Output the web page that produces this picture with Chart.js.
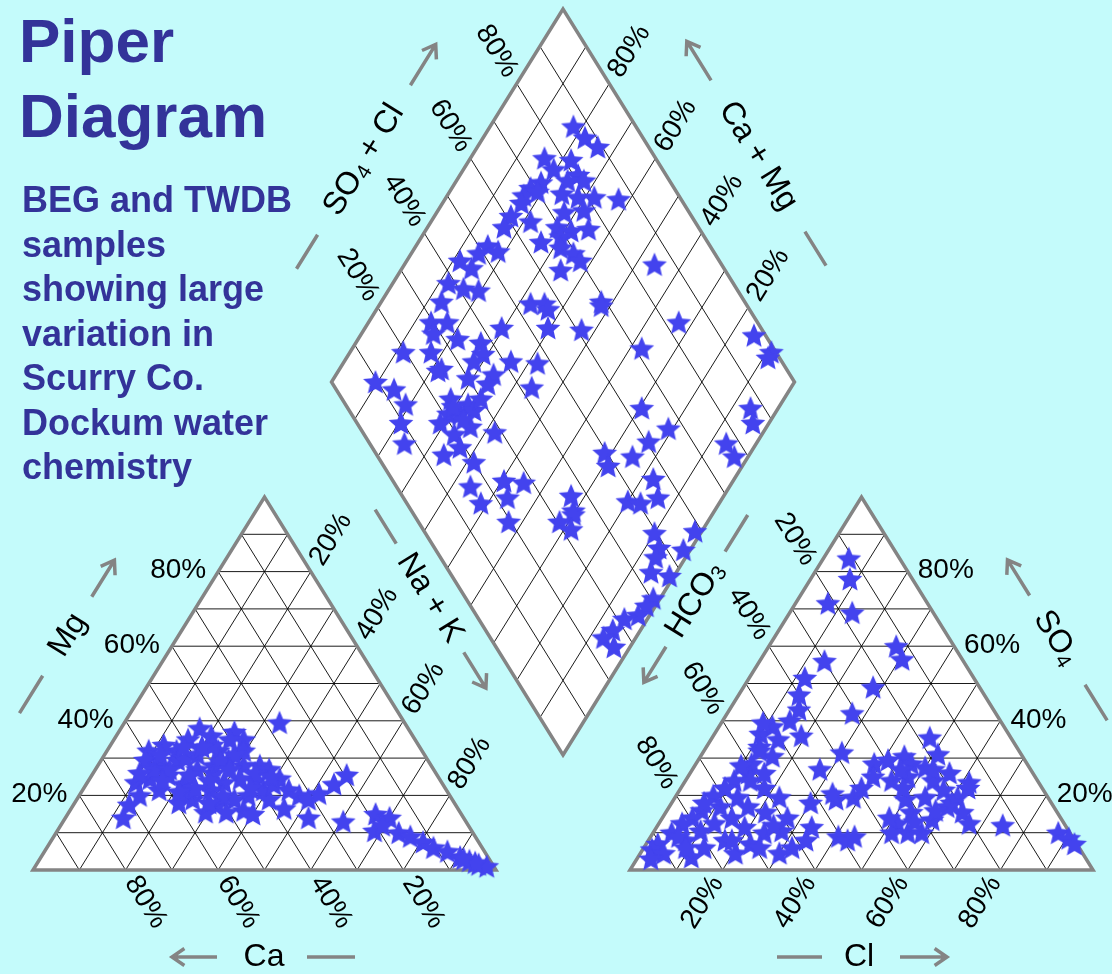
<!DOCTYPE html>
<html>
<head>
<meta charset="utf-8">
<title>Piper Diagram</title>
<script src="https://cdn.jsdelivr.net/npm/chart.js@4.4.1/dist/chart.umd.min.js"></script>
<style>
    html, body { margin: 0; padding: 0; background: #c4fbfb; }
    #wrap { position: relative; width: 1112px; height: 974px; overflow: hidden; }
    #piper { position: absolute; left: 0; top: 0; }
    .title {
        position: absolute; left: 19px; top: 3px;
        font: bold 62px "Liberation Sans", Arial, sans-serif;
        line-height: 75px; color: #333399;
    }
    .note {
        position: absolute; left: 22px; top: 178px;
        font: bold 36px "Liberation Sans", Arial, sans-serif;
        line-height: 44.5px; color: #333399;
    }
</style>
</head>
<body>
<div id="wrap">
    <canvas id="piper" width="1112" height="974"></canvas>
    <div class="title">Piper<br>Diagram</div>
    <div class="note">BEG and TWDB<br>samples<br>showing large<br>variation in<br>Scurry Co.<br>Dockum water<br>chemistry</div>
</div>
<script>
// tick labels and grid steps (percent)
const tickValues = [20, 40, 60, 80];
const gridSteps = [10, 20, 30, 40, 50, 60, 70, 80, 90];

// cation triangle samples: [Ca %, Mg %]  (Na + K = the rest)
const cations = [
    [45, 38], [43.5, 36], [38, 37], [37, 35], [49, 35], [53, 32], [59, 32], [61, 29.5],
    [58.5, 28], [54, 29.5], [49, 31], [44, 32], [58, 25.5], [62.5, 24.5], [66, 23.5], [62, 21.5],
    [56, 23], [51, 27], [47, 28], [43, 29.5], [40.5, 28], [37, 28], [35.5, 27], [40, 24],
    [43, 24.5], [47, 23.5], [51, 21.5], [56, 19], [51.5, 17.5], [47, 19], [43.5, 20], [39.5, 21.5],
    [34.5, 24.5], [34, 21.5], [32.5, 20], [31, 19], [28, 20.5], [23.5, 23], [19.5, 25.5], [27, 39.5],
    [73.5, 14], [33.5, 14], [26.5, 13], [18.5, 15], [16, 14], [21, 10.5], [18.5, 12], [16, 10],
    [14, 9], [12, 7.5], [10.5, 6], [8, 5], [6, 3.5], [4.5, 2.5], [3, 1.5], [1.5, 1],
    [3.5, 2], [5.5, 3], [46.5, 16], [50.5, 15.5], [55, 15.5], [56.5, 20], [67, 20], [55, 33.5],
    [44.5, 33.5], [39.5, 19], [37.5, 16.5], [45, 15], [59.5, 18], [60.5, 27], [36.5, 23], [53.5, 25.5],
    [38.5, 32], [70.5, 17.5], [52, 30], [57, 27], [48, 26], [45, 29], [41, 31], [39, 26],
    [50, 24], [54, 22], [60, 24], [64, 26], [57, 31], [47, 33], [42, 22], [36, 25],
    [49, 20], [53, 18], [58, 21], [44, 27], [40, 35], [51, 33]
];

// anion triangle samples: [Cl %, SO4 %]  (HCO3 = the rest)
const anions = [
    [5.5, 83.5], [8.5, 78], [7, 71.5], [13.5, 69], [27.5, 60], [30.5, 56.5], [14, 56], [12, 51.5],
    [28, 49], [27, 42], [47, 35.5], [30, 31.5], [27.5, 27],
    [15, 43], [14.5, 40], [11.5, 38.5], [10, 36.5], [14.5, 35], [11.5, 33], [15.5, 30.5], [12, 28.5],
    [12.5, 26], [10.5, 24], [9.5, 22], [18, 22], [13.5, 19.5], [22.5, 19.5], [11, 17], [7.5, 16],
    [6.5, 14], [5, 12.5], [4, 10], [2.5, 7], [2, 5.5], [5, 4.5], [8, 8], [10, 10.5],
    [12, 12.5], [15, 14], [19, 11.5], [16.5, 8], [13, 6], [11.5, 3.5], [20.5, 4.5], [22.5, 7],
    [24, 10], [27.5, 10.5], [32, 6], [30, 4.5], [21.5, 15.5], [33.5, 11.5], [34, 8], [40.5, 9],
    [43, 8], [44, 9], [30, 18], [35, 19], [38.5, 19.5], [39, 22], [9, 39.5], [33.5, 20.5],
    [38.5, 28.5], [41, 29.5], [44, 30.5], [46.5, 28.5], [51, 31], [50, 27.5], [44.5, 24], [47.5, 25],
    [53.5, 24], [57, 21.5], [61, 19.5], [61.5, 23.5], [64, 15.5], [67, 12.5], [54, 19.5], [50, 19],
    [53, 15.5], [51.5, 12.5], [55, 10], [58, 10], [51.5, 10], [58.5, 13.5], [60.5, 18], [74.5, 12],
    [87.5, 10], [90.5, 8.5], [92.5, 7], [40, 25], [60, 17],
    [8, 20], [10, 28], [14, 24], [17, 17], [6, 9], [9, 6], [3, 3], [18, 8],
    [25, 6], [27, 14], [16, 26], [12, 32], [19, 36], [13, 47], [25, 12], [7, 18],
    [48, 22], [52, 27], [56, 26], [45, 27], [58, 16], [62, 22], [49, 14], [55, 13]
];

// diamond samples: [SO4 + Cl %, Ca + Mg %]
const diamondPts = [
    [86.5, 82], [87.5, 78], [89, 74], [76, 84], [81.5, 78], [76.5, 80.5], [81, 74.5], [81.5, 72.5],
    [78, 76], [72, 81.5], [69, 83], [66.5, 83.5], [65, 83], [70, 81], [75, 75.5], [81.5, 68],
    [86.5, 62.5], [78, 71.5], [73, 72.5], [77.5, 68.5], [61, 83.5], [58, 83.5], [64.5, 78.5], [69.5, 72],
    [72, 68.5], [76, 65], [69, 70], [64, 73.5], [67.5, 68.5], [69.5, 65], [70, 62.5], [64.5, 65.5],
    [52, 84.5], [49, 85.5], [53.5, 81.5], [44, 88.5], [45.5, 85], [38.5, 88], [41, 84], [44, 80.5],
    [34.5, 87], [85.5, 46], [53.5, 67.5], [56.5, 64.5], [69, 52.5],
    [29.5, 86.5], [28.5, 84.5], [33, 83], [33, 78.5], [19.5, 88.5], [25.5, 82.5], [25.5, 78], [37.5, 73],
    [36.5, 71], [33.5, 72], [44, 70.5], [41.5, 64], [36, 66], [30, 71], [33.5, 66], [56.5, 63],
    [54, 60.5], [47, 58], [42.5, 56], [9.5, 90.5], [12.5, 85.5], [13, 81], [9.5, 79.5], [7.5, 76],
    [23.5, 72], [26.5, 67.5], [21, 70.5], [23.5, 68], [27, 65.5], [30, 65.5], [18, 71], [24, 64],
    [19.5, 66.5], [28.5, 58], [19, 63.5], [14.5, 66], [20, 58.5], [16, 56], [24, 49.5], [28, 45],
    [22.5, 46.5], [16, 51.5], [36.5, 33], [35, 30.5], [24.5, 78.5], [23, 70.5], [23.5, 66.5], [19.5, 43],
    [61, 53], [83, 33], [71.5, 37.5], [97.5, 15], [99, 9], [97.5, 9], [63.5, 29.5], [66.5, 21],
    [60.5, 23.5], [49.5, 31.5], [48.5, 29], [55, 25], [87, 6], [85.5, 3.5], [77, 6.5], [77, 3],
    [56.5, 17.5], [48, 20], [50.5, 17], [55, 14], [34.5, 30], [30.5, 32], [32, 28.5], [49.5, 10],
    [58.5, 1.5], [48.5, 7], [53.5, 1.5], [46.5, 6.5], [43.5, 5.5], [47, 1], [40.5, 1.5], [38, 2],
    [35, 2.5], [31.5, 5], [27.5, 6], [24.5, 7], [25.5, 3.5], [68.5, 52]
];

// layout of the three panels (layout units, the scales run 0..1112 and 0..974)
const SIDE = 463, HGT = 373, BASE_Y = 870;
const LEFT_X0 = 33, RIGHT_X0 = 630;
const DIA_X = 563, DIA_Y = 755;
const THETA = Math.atan2(HGT, SIDE / 2);
const CS = Math.cos(THETA), SN = Math.sin(THETA);

const BORDER = '#848484';
const INK = '#000000';
const STAR = '#4343ee';
const TICK_FONT = '28px "Liberation Sans", Arial, sans-serif';
const AXIS_FONT = '32px "Liberation Sans", Arial, sans-serif';
const SUB_FONT = '21px "Liberation Sans", Arial, sans-serif';

function leftTri(ca, mg) {
    const na = 100 - ca - mg;
    return { x: LEFT_X0 + SIDE * (na + mg / 2) / 100, y: BASE_Y - HGT * mg / 100 };
}
function rightTri(cl, so4) {
    return { x: RIGHT_X0 + SIDE * (cl + so4 / 2) / 100, y: BASE_Y - HGT * so4 / 100 };
}
function diamond(a, b) {
    return { x: DIA_X + SIDE / 2 * (a - b) / 100, y: DIA_Y - HGT * (a + b) / 100 };
}

// filled five point star used as point style
function makeStar(r, color) {
    const c = document.createElement('canvas');
    const size = Math.ceil(r * 2) + 2;
    c.width = c.height = size;
    const g = c.getContext('2d');
    g.translate(size / 2, size / 2 + r * 0.08);
    g.beginPath();
    for (let i = 0; i < 10; i++) {
        const rr = i % 2 ? r * 0.46 : r;
        const a = -Math.PI / 2 + i * Math.PI / 5;
        g.lineTo(rr * Math.cos(a), rr * Math.sin(a));
    }
    g.closePath();
    g.fillStyle = color;
    g.fill();
    return c;
}
const starImg = makeStar(13, STAR);

const piperFrame = {
    id: 'piperFrame',
    beforeDatasetsDraw(chart) {
        const ctx = chart.ctx;
        const xs = chart.scales.x, ys = chart.scales.y;
        const px = p => ({ x: xs.getPixelForValue(p.x), y: ys.getPixelForValue(p.y) });

        const poly = (pts, fill, stroke, lw) => {
            ctx.beginPath();
            pts.map(px).forEach((p, i) => i ? ctx.lineTo(p.x, p.y) : ctx.moveTo(p.x, p.y));
            ctx.closePath();
            if (fill) { ctx.fillStyle = fill; ctx.fill(); }
            if (stroke) { ctx.strokeStyle = stroke; ctx.lineWidth = lw; ctx.lineJoin = 'miter'; ctx.stroke(); }
        };
        const seg = (a, b) => {
            const p = px(a), q = px(b);
            ctx.moveTo(p.x, p.y);
            ctx.lineTo(q.x, q.y);
        };

        const leftShape = [leftTri(100, 0), leftTri(0, 0), leftTri(0, 100)];
        const rightShape = [rightTri(0, 0), rightTri(100, 0), rightTri(0, 100)];
        const diaShape = [diamond(0, 0), diamond(100, 0), diamond(100, 100), diamond(0, 100)];

        ctx.save();
        [leftShape, rightShape, diaShape].forEach(s => poly(s, '#ffffff'));

        // grid
        ctx.beginPath();
        gridSteps.forEach(k => {
            seg(leftTri(100 - k, k), leftTri(0, k));
            seg(leftTri(k, 0), leftTri(k, 100 - k));
            seg(leftTri(100 - k, 0), leftTri(0, 100 - k));
            seg(rightTri(0, k), rightTri(100 - k, k));
            seg(rightTri(k, 0), rightTri(k, 100 - k));
            seg(rightTri(100 - k, 0), rightTri(0, 100 - k));
            seg(diamond(k, 0), diamond(k, 100));
            seg(diamond(0, k), diamond(100, k));
        });
        ctx.strokeStyle = INK;
        ctx.lineWidth = 0.9;
        ctx.stroke();

        [leftShape, rightShape, diaShape].forEach(s => poly(s, null, BORDER, 3.5));

        // tick labels
        ctx.fillStyle = '#000';
        ctx.font = TICK_FONT;
        const label = (text, p, dx, dy, ang, align) => {
            const q = px(p);
            ctx.save();
            ctx.translate(q.x + dx, q.y + dy);
            ctx.rotate(ang);
            ctx.textAlign = align;
            ctx.textBaseline = 'middle';
            ctx.fillText(text, 0, 0);
            ctx.restore();
        };
        const off = 10;
        tickValues.forEach(k => {
            const t = k + '%';
            label(t, leftTri(100 - k, k), -12, -1, 0, 'right');                       // Mg
            label(t, leftTri(k, 0), off * CS, off * SN, THETA, 'left');                 // Ca
            label(t, leftTri(0, 100 - k), off * CS, -off * SN, -THETA, 'left');         // Na + K
            label(t, rightTri(100 - k, k), 10, -1, 0, 'left');                          // SO4
            label(t, rightTri(k, 0), -off * CS, off * SN, -THETA, 'right');             // Cl
            label(t, rightTri(0, 100 - k), -off * CS, -off * SN, THETA, 'right');       // HCO3
            label(t, diamond(k, 100), -off * CS, -off * SN, THETA, 'right');            // SO4 + Cl
            label(t, diamond(100, k), off * CS, -off * SN, -THETA, 'left');             // Ca + Mg
        });

        // axis titles with arrow and dash
        const axisTitle = (parts, c, ang, arrow, dash) => {
            const q = px(c);
            ctx.save();
            ctx.translate(q.x, q.y);
            ctx.rotate(ang);
            ctx.textBaseline = 'middle';
            ctx.textAlign = 'left';
            const widths = parts.map(([t, sub]) => {
                ctx.font = sub ? SUB_FONT : AXIS_FONT;
                return ctx.measureText(t).width;
            });
            let x = -widths.reduce((s, w) => s + w, 0) / 2;
            ctx.fillStyle = '#000';
            parts.forEach(([t, sub], i) => {
                ctx.font = sub ? SUB_FONT : AXIS_FONT;
                ctx.fillText(t, x, sub ? 7 : 0);
                x += widths[i];
            });
            ctx.strokeStyle = BORDER;
            ctx.lineWidth = 3.5;
            ctx.lineCap = 'butt';
            ctx.beginPath();
            ctx.moveTo(dash[0], 0);
            ctx.lineTo(dash[1], 0);
            ctx.moveTo(arrow[0], 0);
            ctx.lineTo(arrow[1], 0);
            const dir = Math.sign(arrow[1] - arrow[0]);
            const hl = 15, ha = 0.6;
            ctx.moveTo(arrow[1] - dir * hl * Math.cos(ha), -hl * Math.sin(ha));
            ctx.lineTo(arrow[1], 0);
            ctx.lineTo(arrow[1] - dir * hl * Math.cos(ha), hl * Math.sin(ha));
            ctx.stroke();
            ctx.restore();
        };
        axisTitle([['Ca', 0]], { x: 264, y: 957 }, 0, [-47, -92], [43, 91]);
        axisTitle([['Mg', 0]], { x: 68, y: 635 }, -THETA, [45, 88], [-48, -92]);
        axisTitle([['Na + K', 0]], { x: 430, y: 598 }, THETA, [64, 106], [-64, -104]);
        axisTitle([['Cl', 0]], { x: 859, y: 957 }, 0, [41, 88], [-37, -82]);
        axisTitle([['SO', 0], ['4', 1]], { x: 1056, y: 638 }, THETA, [-50, -92], [55, 97]);
        axisTitle([['HCO', 0], ['3', 1]], { x: 695, y: 600 }, -THETA, [-55, -97], [57, 100]);
        axisTitle([['SO', 0], ['4', 1], [' + Cl', 0]], { x: 364, y: 160 }, -THETA, [88, 136], [-88, -128]);
        axisTitle([['Ca + Mg', 0]], { x: 758, y: 156 }, THETA, [-89, -135], [89, 129]);
        ctx.restore();
    }
};

const starSet = (label, pts) => ({
    label: label,
    data: pts,
    pointStyle: starImg,
    pointRadius: 13,
    pointHoverRadius: 13,
    clip: false
});

const chart = new Chart(document.getElementById('piper'), {
    type: 'scatter',
    data: {
        datasets: [
            starSet('cations', cations.map(([ca, mg]) => leftTri(ca, mg))),
            starSet('anions', anions.map(([cl, so4]) => rightTri(cl, so4))),
            starSet('diamond', diamondPts.map(([a, b]) => diamond(a, b)))
        ]
    },
    options: {
        responsive: false,
        animation: false,
        devicePixelRatio: 1,
        layout: { padding: 0, autoPadding: false },
        scales: {
            x: { type: 'linear', min: 0, max: 1112, display: false },
            y: { type: 'linear', min: 0, max: 974, reverse: true, display: false }
        },
        plugins: {
            legend: { display: false },
            tooltip: { enabled: false }
        },
        events: []
    },
    plugins: [piperFrame]
});
</script>
</body>
</html>
